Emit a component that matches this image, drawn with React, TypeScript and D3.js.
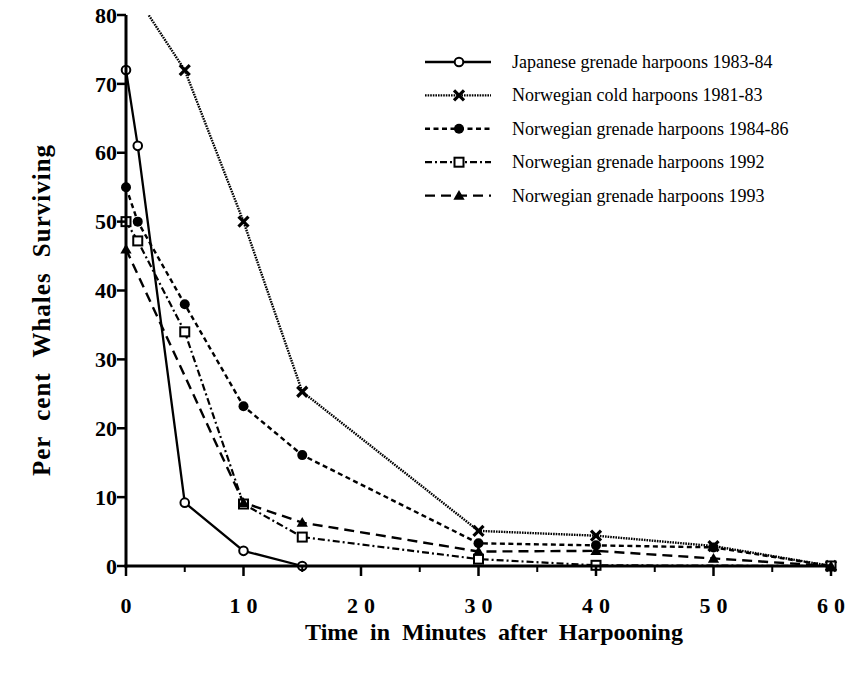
import React from 'react';
import * as d3 from 'd3';

// minutes after harpooning for each series, and per cent surviving
const japaneseTimes = [0, 1, 5, 10, 15];
const japaneseValues = [72, 61, 9.2, 2.2, 0];

const coldTimes = [0, 5, 10, 15, 30, 40, 50, 60];
const coldValues = [85, 72, 50, 25.3, 5.1, 4.4, 2.9, 0];

const grenade8486Times = [0, 1, 5, 10, 15, 30, 40, 50, 60];
const grenade8486Values = [55, 50, 38, 23.2, 16.1, 3.3, 3.0, 2.7, 0];

const grenade92Times = [0, 1, 5, 10, 15, 30, 40, 60];
const grenade92Values = [50, 47.2, 34, 9, 4.2, 1.0, 0.1, 0];

const grenade93Times = [0, 10, 15, 30, 40, 50, 60];
const grenade93Values = [46, 9.2, 6.3, 2.1, 2.2, 1.1, 0];

const seriesLabels = [
  'Japanese grenade harpoons 1983-84',
  'Norwegian cold harpoons 1981-83',
  'Norwegian grenade harpoons 1984-86',
  'Norwegian grenade harpoons 1992',
  'Norwegian grenade harpoons 1993',
];

const xTicks = [0, 10, 20, 30, 40, 50, 60];
const xMinorTicks = [5, 15, 25, 35, 45, 55];
const yTicks = [0, 10, 20, 30, 40, 50, 60, 70, 80];

const W = 847;
const H = 677;
const margin = { left: 126, right: 16, top: 15, bottom: 111 };

const serif = 'Liberation Serif';

type Style = { dash: string; width: number; marker: string };

const styles: Style[] = [
  { dash: '', width: 2.3, marker: 'openCircle' },
  { dash: '1.6,1', width: 2.4, marker: 'cross' },
  { dash: '5,3.5', width: 2.4, marker: 'dot' },
  { dash: '7,3,2,3', width: 2.2, marker: 'openSquare' },
  { dash: '10,6', width: 2.4, marker: 'triangle' },
];

function Marker({ kind, x, y }: { kind: string; x: number; y: number }) {
  if (kind === 'openCircle')
    return <circle cx={x} cy={y} r={4.3} fill="#fff" stroke="#000" strokeWidth={2} />;
  if (kind === 'dot') return <circle cx={x} cy={y} r={5} fill="#000" />;
  if (kind === 'openSquare')
    return <rect x={x - 4.5} y={y - 4.5} width={9} height={9} fill="#fff" stroke="#000" strokeWidth={2} />;
  if (kind === 'triangle') {
    const p = d3.symbol(d3.symbolTriangle, 55)()!;
    return <path d={p} transform={`translate(${x},${y + 1})`} fill="#000" />;
  }
  // cross
  return (
    <g stroke="#000" strokeWidth={3.2} strokeLinecap="butt">
      <line x1={x - 5} y1={y - 5} x2={x + 5} y2={y + 5} />
      <line x1={x - 5} y1={y + 5} x2={x + 5} y2={y - 5} />
    </g>
  );
}

export default function App() {
  const x = d3.scaleLinear().domain([0, 60]).range([margin.left, W - margin.right]);
  const y = d3.scaleLinear().domain([0, 80]).range([H - margin.bottom, margin.top]);

  const series = [
    { t: japaneseTimes, v: japaneseValues },
    { t: coldTimes, v: coldValues },
    { t: grenade8486Times, v: grenade8486Values },
    { t: grenade92Times, v: grenade92Values },
    { t: grenade93Times, v: grenade93Values },
  ];

  const line = d3
    .line<[number, number]>()
    .x(d => x(d[0]))
    .y(d => y(d[1]));

  const y0 = y(0);
  const legendX0 = 425;
  const legendX1 = 491;
  const legendMarkX = 459;
  const legendTextX = 512;
  const legendY = (i: number) => 62 + i * 33.4;

  return (
    <svg width={W} height={H} style={{ position: 'absolute', left: 0, top: 0, background: '#fff' }}>
      <defs>
        <clipPath id="plot-clip">
          <rect x={0} y={margin.top} width={W} height={H - margin.top} />
        </clipPath>
      </defs>

      {/* series */}
      <g clipPath="url(#plot-clip)">
        {series.map((s, i) => {
          const pts = s.t.map((t, j) => [t, s.v[j]] as [number, number]);
          return (
            <g key={i}>
              <path
                d={line(pts)!}
                fill="none"
                stroke="#000"
                strokeWidth={styles[i].width}
                strokeDasharray={styles[i].dash || undefined}
              />
              {pts.map((p, j) => (
                <Marker key={j} kind={styles[i].marker} x={x(p[0])} y={y(p[1])} />
              ))}
            </g>
          );
        })}
      </g>

      {/* axes */}
      <line x1={x(0)} x2={x(0)} y1={y(80)} y2={y0 + 1.5} stroke="#000" strokeWidth={3} />
      <line x1={x(0) - 1.5} x2={x(60) + 1} y1={y0} y2={y0} stroke="#000" strokeWidth={3} />
      <g fontFamily={serif} fontWeight="bold" fontSize={22}>
        {yTicks.map(t => (
          <g key={t}>
            <line x1={x(0) - 9} x2={x(0)} y1={y(t)} y2={y(t)} stroke="#000" strokeWidth={2.5} />
            <text x={x(0) - 9} y={y(t)} dy="0.35em" textAnchor="end">
              {t}
            </text>
          </g>
        ))}
        {xTicks.map(t => {
          const s = String(t);
          return (
            <g key={t}>
              <line x1={x(t)} x2={x(t)} y1={y0} y2={y0 + 10} stroke="#000" strokeWidth={2.5} />
              <text x={x(t)} y={y0 + 47} textAnchor="middle">
                {s.split('').map((ch, k) => (
                  <tspan key={k} dx={k === 0 ? 0 : 6}>
                    {ch}
                  </tspan>
                ))}
              </text>
            </g>
          );
        })}
      </g>
      {xMinorTicks.map(t => (
        <line key={t} x1={x(t)} x2={x(t)} y1={y0} y2={y0 + 6} stroke="#000" strokeWidth={2} />
      ))}

      {/* axis titles */}
      <text
        x={494}
        y={640}
        textAnchor="middle"
        fontFamily={serif}
        fontWeight="bold"
        fontSize={24}
        wordSpacing={6}
      >
        Time in Minutes after Harpooning
      </text>
      <text
        transform="translate(50,310) rotate(-90)"
        textAnchor="middle"
        fontFamily={serif}
        fontWeight="bold"
        fontSize={25}
        letterSpacing={1}
        wordSpacing={8}
      >
        Per cent Whales Surviving
      </text>

      {/* legend */}
      {seriesLabels.map((label, i) => (
        <g key={label}>
          <line
            x1={legendX0}
            x2={legendX1}
            y1={legendY(i)}
            y2={legendY(i)}
            stroke="#000"
            strokeWidth={styles[i].width}
            strokeDasharray={styles[i].dash || undefined}
          />
          <Marker kind={styles[i].marker} x={legendMarkX} y={legendY(i)} />
          <text x={legendTextX} y={legendY(i)} dy="0.33em" fontFamily={serif} fontSize={18}>
            {label}
          </text>
        </g>
      ))}
    </svg>
  );
}
